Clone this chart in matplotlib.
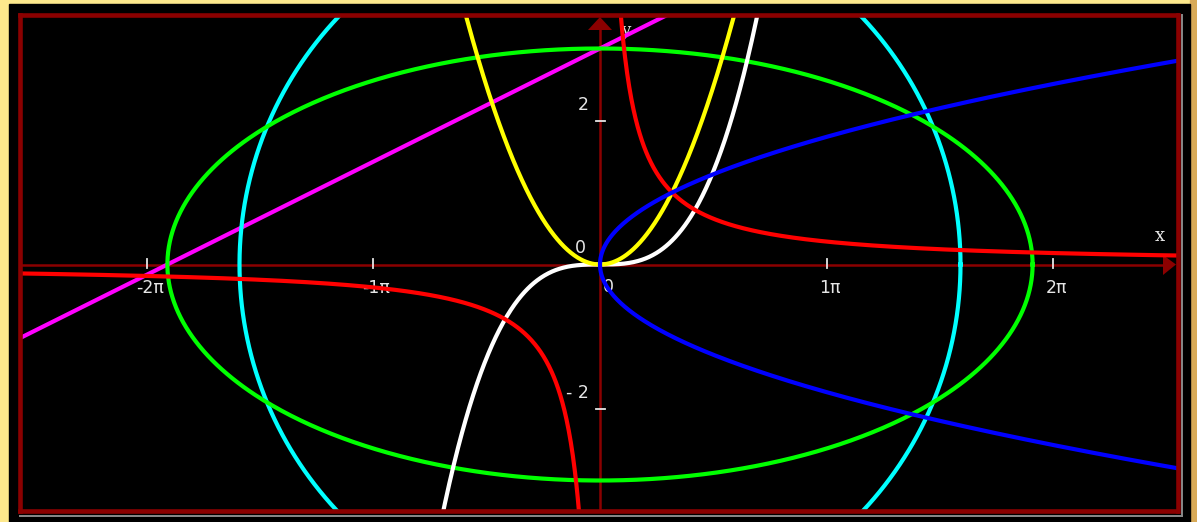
"""Graphs of several conic and power curves on a dark grid."""

import matplotlib.pyplot as plt
import numpy as np
from matplotlib.lines import Line2D
from matplotlib.patches import Rectangle

W, H = 1197, 522

# curve parameters
ELLIPSE_AXES = (6.0, 3.0)        # x^2/a^2 + y^2/b^2 = 1
CIRCLE_RADIUS = 5.0              # x^2 + y^2 = r^2
LINE_COEF = (0.5, 3.0)           # y = m x + c
PARABOLA_COEF = 1.0              # y = k x^2
CUBIC_COEF = 1.0 / 3.0           # y = k x^3
HYPERBOLA_COEF = 1.0             # y = k / x
SIDE_PARABOLA_COEF = 1.0         # x = k y^2

X_TICKS = [-2 * np.pi, -np.pi, np.pi, 2 * np.pi]
X_TICK_LABELS = ["-2\u03c0", "-1\u03c0", "1\u03c0", "2\u03c0"]
Y_TICKS = [2, -2]
Y_TICK_LABELS = ["2", "- 2"]

AXIS_RED = "#8b0000"
TEXT = "#e6e6e6"

# pixel mapping of the plot area
ORIGIN = (600.0, 264.5)
SCALE = (72.1, 72.0)
LEFT, TOP, RIGHT, BOTTOM = 20.0, 15.0, 1177.5, 511.0


def to_x(px):
    return (px - ORIGIN[0]) / SCALE[0]


def to_y(py):
    return (ORIGIN[1] - py) / SCALE[1]


fig = plt.figure(figsize=(W / 100, H / 100), dpi=100)
fig.patch.set_facecolor("#fde88c")
fig.add_artist(Rectangle((1190 / W, 0), 7 / W, 1, transform=fig.transFigure,
                         color="#d8aa58", zorder=0))
fig.add_artist(Rectangle((9 / W, 0), (1190 - 9) / W, 1 - 4 / H,
                         transform=fig.transFigure, color="black", zorder=0))

ax = fig.add_axes([LEFT / W, 1 - BOTTOM / H, (RIGHT - LEFT) / W, (BOTTOM - TOP) / H])
ax.set_facecolor("black")
ax.set_xlim(to_x(LEFT), to_x(RIGHT))
ax.set_ylim(to_y(BOTTOM), to_y(TOP))
ax.set_xticks([])
ax.set_yticks([])
for sp in ax.spines.values():
    sp.set_color(AXIS_RED)
    sp.set_linewidth(3.3)
    sp.set_zorder(20)

# bevel shadow under the frame
fig.add_artist(Line2D([LEFT / W, 1182 / W], [1 - 516 / H, 1 - 516 / H],
                      color="#8a8a8a", lw=1.4, transform=fig.transFigure, zorder=25))
fig.add_artist(Line2D([1181.5 / W, 1181.5 / W], [1 - 516 / H, 1 - TOP / H],
                      color="#8a8a8a", lw=1.4, transform=fig.transFigure, zorder=25))

# coordinate axes with arrowheads
x0, x1 = ax.get_xlim()
y0, y1 = ax.get_ylim()
ax.plot([x0, to_x(1165)], [0, 0], color=AXIS_RED, lw=1.8, zorder=1)
ax.plot([0, 0], [y0, to_y(28)], color=AXIS_RED, lw=1.8, zorder=1)
ax.fill([to_x(1163), to_x(1176), to_x(1163)], [to_y(255), 0, to_y(275)],
        color=AXIS_RED, zorder=1, lw=0)
ax.fill([to_x(588), 0, to_x(612)], [to_y(30), to_y(17), to_y(30)],
        color=AXIS_RED, zorder=1, lw=0)

# tick marks and labels
for xt, lab in zip(X_TICKS, X_TICK_LABELS):
    ax.plot([xt, xt], [to_y(259), to_y(268)], color=TEXT, lw=1.3, zorder=1.5)
    ax.text(xt + to_x(603), to_y(288), lab, color=TEXT, fontsize=12.5,
            ha="center", va="center", zorder=1.5)
for yt, lab in zip(Y_TICKS, Y_TICK_LABELS):
    ax.plot([to_x(596), to_x(605)], [yt, yt], color=TEXT, lw=1.3, zorder=1.5)
    ax.text(to_x(589), yt + to_y(249), lab, color=TEXT, fontsize=12.5,
            ha="right", va="center", zorder=1.5)
ax.text(to_x(580), to_y(248), "0", color=TEXT, fontsize=12.5, ha="center",
        va="center", zorder=1.5)
ax.text(to_x(608), to_y(287), "0", color=TEXT, fontsize=12.5, ha="center",
        va="center", zorder=1.5)
ax.text(to_x(1160), to_y(236), "x", color=TEXT, fontsize=13, ha="center",
        va="center", family="DejaVu Serif", zorder=1.5)
ax.text(to_x(626), to_y(30), "y", color=TEXT, fontsize=12, ha="center",
        va="center", family="DejaVu Serif", zorder=1.5)

LW = 3.0
t = np.linspace(0, 2 * np.pi, 800)

# line
xs = np.linspace(x0, x1, 400)
ax.plot(xs, LINE_COEF[0] * xs + LINE_COEF[1], color="#ff00ff", lw=LW, zorder=3)

# circle
ax.plot(CIRCLE_RADIUS * np.cos(t), CIRCLE_RADIUS * np.sin(t),
        color="#00ffff", lw=LW, zorder=4)

# ellipse
ax.plot(ELLIPSE_AXES[0] * np.cos(t), ELLIPSE_AXES[1] * np.sin(t),
        color="#00ff00", lw=LW, zorder=5)

# cubic
xc = np.linspace(-2.6, 2.6, 600)
ax.plot(xc, CUBIC_COEF * xc ** 3, color="white", lw=LW, zorder=6)

# parabola
xp = np.linspace(-2.0, 2.0, 600)
ax.plot(xp, PARABOLA_COEF * xp ** 2, color="#ffff00", lw=LW, zorder=7)

# hyperbola, two branches
xh = np.linspace(0.25, x1, 800)
ax.plot(xh, HYPERBOLA_COEF / xh, color="#ff0000", lw=LW, zorder=8)
ax.plot(-xh, -HYPERBOLA_COEF / xh, color="#ff0000", lw=LW, zorder=8)

# sideways parabola
ys = np.linspace(-3.0, 3.0, 600)
ax.plot(SIDE_PARABOLA_COEF * ys ** 2, ys, color="#0000ff", lw=LW, zorder=9)

fig.savefig("out.png", dpi=100, facecolor=fig.get_facecolor())
